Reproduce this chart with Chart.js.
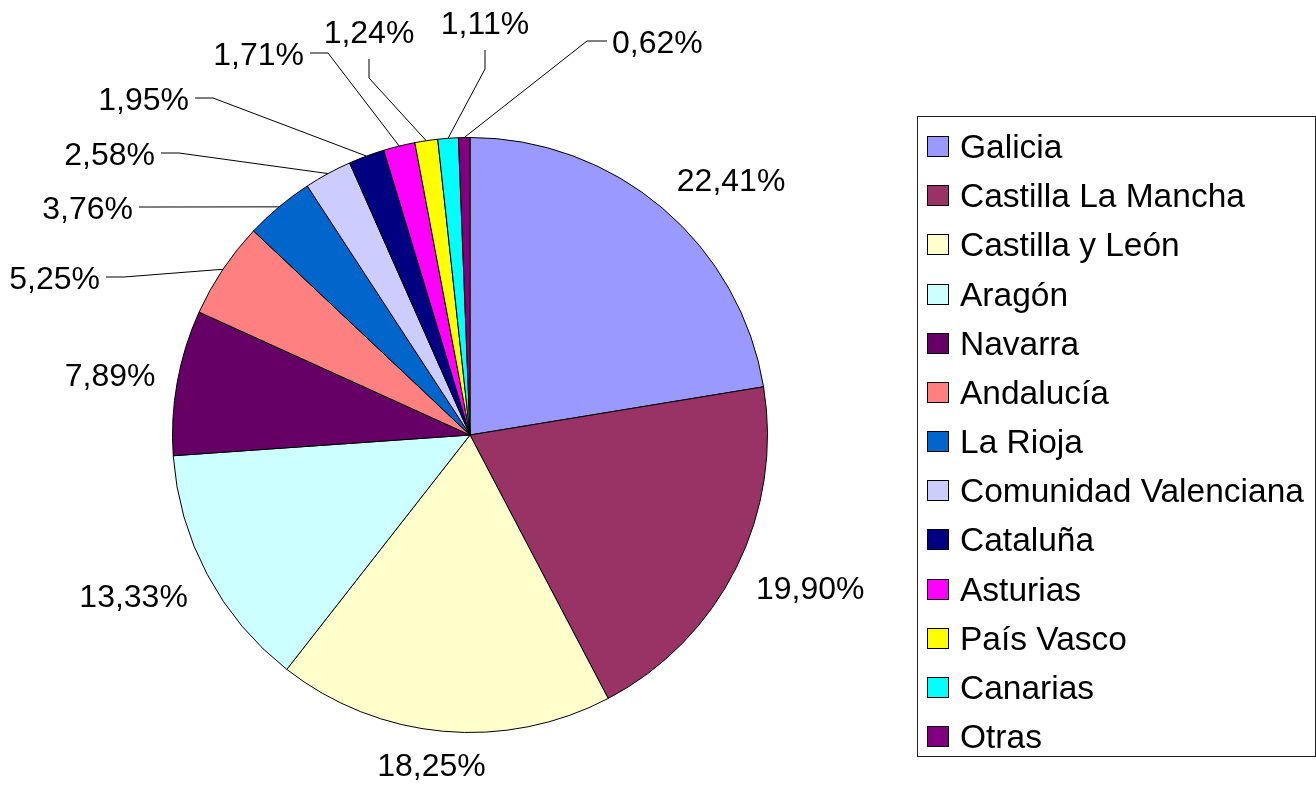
<!DOCTYPE html>
<html>
<head>
<meta charset="utf-8">
<script src="https://cdn.jsdelivr.net/npm/chart.js"></script>
<style>
  html, body { margin: 0; padding: 0; background: #fff; }
  canvas { display: block; }
</style>
</head>
<body>
<canvas id="myChart" width="1316" height="792"></canvas>
<script>
// Datos
const regiones = ['Galicia', 'Castilla La Mancha', 'Castilla y León', 'Aragón', 'Navarra', 'Andalucía',
  'La Rioja', 'Comunidad Valenciana', 'Cataluña', 'Asturias', 'País Vasco', 'Canarias', 'Otras'];
const porcentajes = [22.41, 19.90, 18.25, 13.33, 7.89, 5.25, 3.76, 2.58, 1.95, 1.71, 1.24, 1.11, 0.62];
const colores = ['#9999FF', '#993366', '#FFFFCC', '#CCFFFF', '#660066', '#FF8080', '#0066CC',
  '#CCCCFF', '#000080', '#FF00FF', '#FFFF00', '#00FFFF', '#800080'];

// codo de las lineas guia para los sectores pequeños (relativo al centro de la tarta)
const guias = {
  5:  { dx: -346, dy: -158, stub: 'left' },
  6:  { dx: -313, dy: -228, stub: 'left' },
  7:  { dx: -291, dy: -282, stub: 'left' },
  8:  { dx: -257, dy: -337, stub: 'left' },
  9:  { dx: -142, dy: -382, stub: 'left' },
  10: { dx: -101, dy: -357, stub: 'up' },
  11: { dx: 15,   dy: -366, stub: 'up' },
  12: { dx: 117,  dy: -394, stub: 'right' }
};

const FUENTE = '"Liberation Sans", Arial, sans-serif';

function fmt(v) {
  return v.toFixed(2).replace('.', ',') + '%';
}

// Etiquetas de porcentaje
const etiquetas = {
  id: 'etiquetas',
  afterDatasetsDraw(chart) {
    const ctx = chart.ctx;
    const arcs = chart.getDatasetMeta(0).data;
    ctx.save();
    ctx.font = '32px ' + FUENTE;
    ctx.fillStyle = '#000';
    ctx.strokeStyle = '#000';
    ctx.lineWidth = 1;
    const capMid = 11.5;
    arcs.forEach((arc, i) => {
      const p = arc.getProps(['x', 'y', 'startAngle', 'endAngle', 'outerRadius'], true);
      const mid = (p.startAngle + p.endAngle) / 2;
      const ux = Math.cos(mid), uy = Math.sin(mid);
      const px = p.x + p.outerRadius * ux, py = p.y + p.outerRadius * uy;
      const txt = fmt(porcentajes[i]);
      const w = ctx.measureText(txt).width;
      const h = 23;
      const g = guias[i];
      ctx.textBaseline = 'alphabetic';
      if (!g) {
        const d = 22;
        const hx = Math.max(-1, Math.min(1, ux * 2));
        const hy = Math.max(-1, Math.min(1, uy * 2));
        const cx = px + d * ux + hx * w / 2;
        const cy = py + d * uy + hy * h / 2;
        ctx.textAlign = 'center';
        ctx.fillText(txt, cx, cy + capMid);
        return;
      }
      const ex = p.x + g.dx, ey = p.y + g.dy;
      ctx.beginPath();
      ctx.moveTo(px, py);
      ctx.lineTo(ex, ey);
      if (g.stub === 'left') {
        ctx.lineTo(ex - 18, ey);
        ctx.stroke();
        ctx.textAlign = 'right';
        ctx.fillText(txt, ex - 24, ey + capMid);
      } else if (g.stub === 'up') {
        ctx.lineTo(ex, ey - 19);
        ctx.stroke();
        ctx.textAlign = 'center';
        ctx.fillText(txt, ex, ey - 19 - 16);
      } else {
        ctx.lineTo(ex + 20, ey);
        ctx.stroke();
        ctx.textAlign = 'left';
        ctx.fillText(txt, ex + 25, ey + capMid);
      }
    });
    ctx.restore();
  }
};

// Leyenda en recuadro
const leyenda = {
  id: 'leyenda',
  afterDraw(chart) {
    const ctx = chart.ctx;
    ctx.save();
    ctx.strokeStyle = '#222';
    ctx.lineWidth = 1;
    ctx.strokeRect(917.5, 116.5, 398, 640);
    ctx.font = '33.5px ' + FUENTE;
    ctx.textAlign = 'left';
    ctx.textBaseline = 'alphabetic';
    regiones.forEach((r, i) => {
      const cy = 146 + i * 49.17;
      ctx.fillStyle = colores[i];
      ctx.fillRect(927, Math.round(cy - 10), 22, 21);
      ctx.strokeStyle = '#000';
      ctx.strokeRect(927.5, Math.round(cy - 10) + 0.5, 21, 20);
      ctx.fillStyle = '#000';
      ctx.fillText(r, 960, cy + 12);
    });
    ctx.restore();
  }
};

const config = {
  type: 'pie',
  data: {
    labels: regiones,
    datasets: [{
      data: porcentajes,
      backgroundColor: colores,
      borderColor: '#000',
      borderWidth: 1
    }]
  },
  options: {
    responsive: false,
    animation: false,
    events: [],
    layout: { padding: { left: 172, top: 137, right: 548, bottom: 59 } },
    plugins: {
      legend: { display: false },
      tooltip: { enabled: false }
    }
  },
  plugins: [etiquetas, leyenda]
};

const myChart = new Chart(document.getElementById('myChart'), config);
</script>
</body>
</html>
